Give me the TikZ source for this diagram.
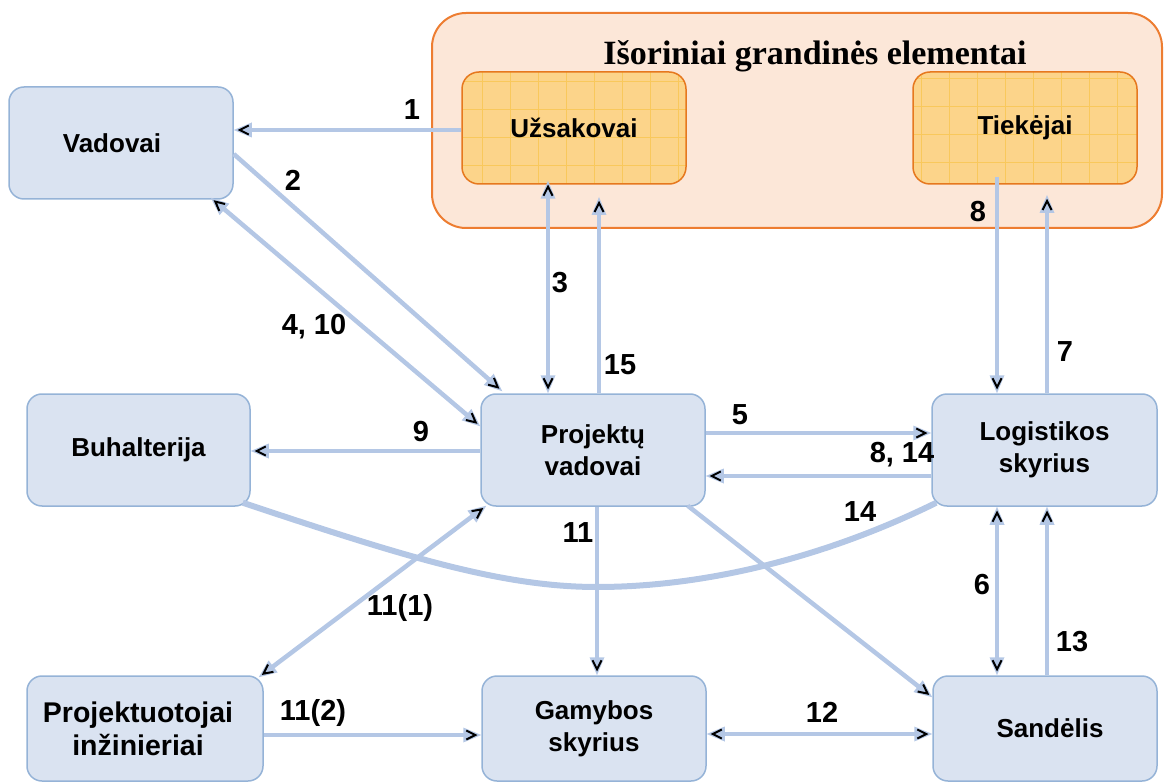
\documentclass[tikz,border=0pt]{standalone}
\usepackage{fontspec}
\setmainfont{Liberation Sans}
\newfontfamily\titlefont{Liberation Serif}
\usetikzlibrary{arrows.meta}

\definecolor{boxfill}{HTML}{DAE3F1}
\definecolor{boxline}{HTML}{95B3D7}
\definecolor{flowc}{HTML}{B4C7E5}
\definecolor{extfill}{HTML}{FCE7D8}
\definecolor{extline}{HTML}{ED7D31}
\definecolor{srcfill}{HTML}{FCD48A}
\definecolor{srcgrid}{HTML}{F9C85C}
\definecolor{srcline}{HTML}{E6781E}

% light blue head with a small black chevron inside
\pgfdeclarearrow{
  name = Vtip,
  setup code = {
    \pgfarrowssettipend{0pt}
    \pgfarrowssetlineend{-10pt}
    \pgfarrowssetbackend{-18pt}
    \pgfarrowshullpoint{0pt}{0pt}
    \pgfarrowsupperhullpoint{-18pt}{7.5pt}
  },
  drawing code = {
    \pgfsetfillcolor{flowc}
    \pgfpathmoveto{\pgfqpoint{0pt}{0pt}}
    \pgfpathlineto{\pgfqpoint{-18pt}{7.5pt}}
    \pgfpathlineto{\pgfqpoint{-18pt}{-7.5pt}}
    \pgfpathclose
    \pgfusepathqfill
    \pgfsetstrokecolor{black}
    \pgfsetlinewidth{2pt}
    \pgfsetmiterjoin
    \pgfsetbuttcap
    \pgfpathmoveto{\pgfqpoint{-15pt}{4.5pt}}
    \pgfpathlineto{\pgfqpoint{-6pt}{0pt}}
    \pgfpathlineto{\pgfqpoint{-15pt}{-4.5pt}}
    \pgfusepathqstroke
  }
}

\begin{document}
\begin{tikzpicture}[x=1pt,y=-1pt,
  unit/.style={draw=boxline, line width=1.5pt, fill=boxfill, rounded corners=15pt,
    inner sep=0pt, align=center, font=\fontsize{26}{32}\selectfont\bfseries},
  outer/.style={draw=extline, line width=2pt, fill=extfill, rounded corners=34pt},
  source/.style={draw=srcline, line width=1.5pt, fill=srcfill, rounded corners=17pt,
    inner sep=0pt, minimum width=224pt, minimum height=112pt,
    font=\fontsize{26}{32}\selectfont\bfseries,
    path picture={\draw[srcgrid, line width=0.8pt, step=28pt]
      (path picture bounding box.south west) grid (path picture bounding box.north east);}},
  flow/.style={draw=flowc, line width=4.5pt},
  fwd/.style={flow, -{Vtip}},
  both/.style={flow, {Vtip}-{Vtip}},
  num/.style={font=\fontsize{29}{34}\selectfont\bfseries, inner sep=0pt}
]
\useasboundingbox (0,0) rectangle (1164,783);

% external chain elements
\node[outer, minimum width=730pt, minimum height=215pt, inner sep=0pt] (ext) at (797,120.5) {};
\node[font=\titlefont\fontsize{34}{38}\selectfont\bfseries, anchor=base] (title) at (815,65) {Išoriniai grandinės elementai};
\node[source] (uz) at (574,128) {Užsakovai};
\node[source] (tk) at (1025,128) {Tiekėjai};

% internal units
\node[unit, minimum width=224pt, minimum height=112pt] (vad) at (121,143) {\hspace*{-18pt}Vadovai};
\node[unit, minimum width=223pt, minimum height=112pt] (buh) at (138.5,450) {Buhalterija};
\node[unit, minimum width=224pt, minimum height=112pt] (pv) at (593,450) {Projektų\\vadovai};
\node[unit, minimum width=225pt, minimum height=112pt] (log) at (1044.5,450) {Logistikos\\skyrius};
\node[unit, minimum width=236pt, minimum height=105pt, font=\fontsize{28.5}{33}\selectfont\bfseries] (proj) at (145,728.5) {\hspace*{-14pt}Projektuotojai\\\hspace*{-14pt}inžinieriai};
\node[unit, minimum width=224pt, minimum height=105pt] (gam) at (594,728.5) {Gamybos\\skyrius};
\node[unit, minimum width=224pt, minimum height=105pt] (sand) at (1045,728.5) {\hspace*{10pt}Sandėlis};

% free ends of the flows into the external block
\coordinate (e15) at (599,197);
\coordinate (e7) at (1047,195);
\coordinate (s8) at (997,177);

% flows
\draw[fwd] ([yshift=-2pt]uz.west) -- ([yshift=-2pt]uz.west -| vad.east);
\draw[fwd] ([yshift=-11pt]vad.east) -- ([xshift=22pt,yshift=2pt]pv.north west);
\draw[both] ([xshift=-23pt,yshift=2pt]vad.south east) -- ([yshift=-33pt]pv.north west);
\draw[both] ([xshift=-26pt,yshift=4pt]uz.south) -- ([xshift=-26pt]uz.south |- pv.north);
\draw[fwd] (e15 |- pv.north) -- (e15);
\draw[fwd] (e7 |- log.north) -- (e7);
\draw[fwd] (s8) -- (s8 |- log.north);
\draw[fwd] ([yshift=17pt]pv.east) -- ([yshift=17pt]pv.east -| log.west);
\draw[fwd] ([yshift=-26pt]log.west) -- ([yshift=-26pt]log.west -| pv.east);
\draw[fwd] ([yshift=-1pt]pv.west) -- ([yshift=-1pt]pv.west -| buh.east);
\draw[flowc, line width=6pt] ([xshift=-8pt,yshift=4pt]buh.south east)
  .. controls (400,555) and (500,587) .. (597,587)
  .. controls (700,587) and (820,560) .. ([xshift=5pt,yshift=4pt]log.south west);
\draw[fwd] ([xshift=4pt]pv.south) -- ([xshift=4pt]pv.south |- gam.north);
\draw[both] ([xshift=6pt,yshift=1pt]pv.south west) -- ([xshift=-5pt,yshift=-2pt]proj.north east);
\draw[fwd] ([yshift=-6.5pt]proj.east) -- ([yshift=-6.5pt]proj.east -| gam.west);
\draw[both] ([yshift=-5.5pt]gam.east) -- ([yshift=-5.5pt]gam.east -| sand.west);
\draw[fwd] ([xshift=-18pt,yshift=1pt]pv.south east) -- ([yshift=-22pt]sand.north west);
\draw[both] ([xshift=-47.5pt]log.south) -- ([xshift=-47.5pt]log.south |- sand.north);
\draw[fwd] ([xshift=2pt]sand.north) -- ([xshift=2pt]sand.north |- log.south);

% flow numbers
\node[num] (n1) at (412,110) {1};
\node[num] (n2) at (293,180) {2};
\node[num] (n3) at (560,283) {3};
\node[num] (n15) at (620,365) {15};
\node[num] (n410) at (314,327) {4, 10};
\node[num] (n5) at (740,415) {5};
\node[num] (n814) at (902,455) {8, 14};
\node[num] (n9) at (421,432) {9};
\node[num] (n14) at (860,512) {14};
\node[num] (n11) at (578,533) {11};
\node[num] (n111) at (400,608) {11(1)};
\node[num] (n112) at (313,713) {11(2)};
\node[num] (n12) at (822,712) {12};
\node[num] (n6) at (982,585) {6};
\node[num] (n13) at (1072,642) {13};
\node[num] (n7) at (1065,352) {7};
\node[num] (n8) at (978,212) {8};
\end{tikzpicture}
\end{document}
